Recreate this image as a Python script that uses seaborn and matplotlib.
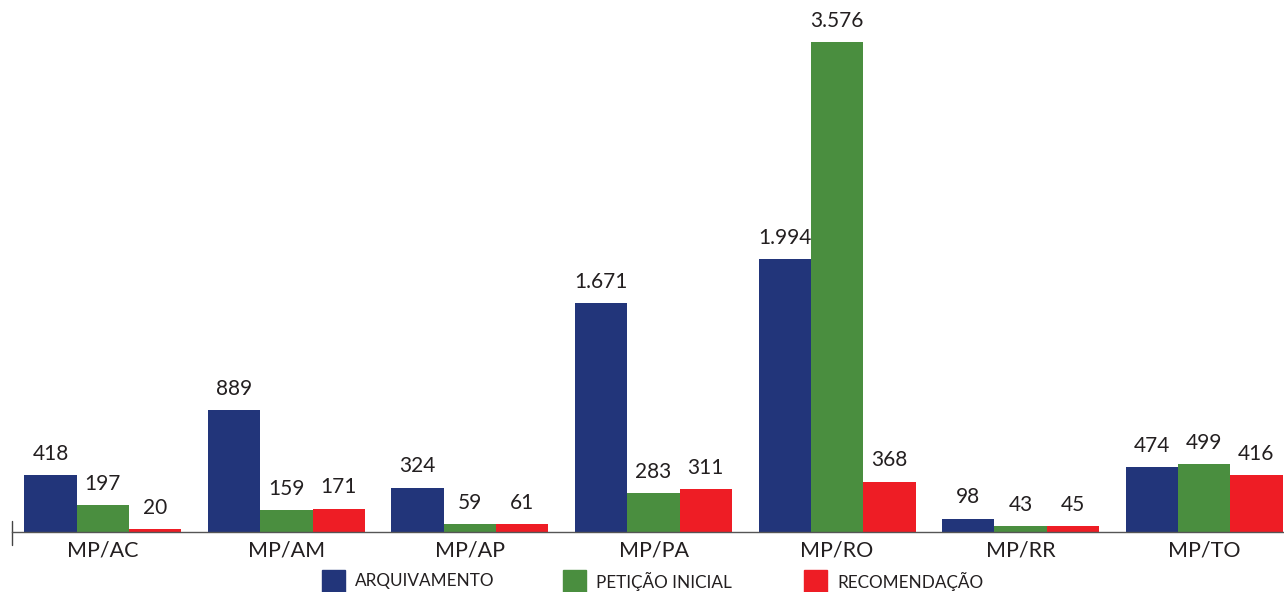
import seaborn as sns
import matplotlib.pyplot as plt
import pandas as pd

categories = ["MP/AC", "MP/AM", "MP/AP", "MP/PA", "MP/RO", "MP/RR", "MP/TO"]
series_names = ["ARQUIVAMENTO", "PETIÇÃO INICIAL", "RECOMENDAÇÃO"]
arquivamento = [418, 889, 324, 1671, 1994, 98, 474]
peticao_inicial = [197, 159, 59, 283, 3576, 43, 499]
recomendacao = [20, 171, 61, 311, 368, 45, 416]
colors = ["#22357A", "#4A8E3F", "#EE1D25"]


def fmt(v):
    # Brazilian thousands separator
    return f"{v:,}".replace(",", ".")


rows = []
for name, vals in zip(series_names, [arquivamento, peticao_inicial, recomendacao]):
    for cat, v in zip(categories, vals):
        rows.append({"Estado": cat, "Tipo": name, "Valor": v})
df = pd.DataFrame(rows)

sns.set_theme(style="white")
plt.rcParams["font.family"] = ["Lato", "DejaVu Sans"]

fig = plt.figure(figsize=(12.84, 5.92), dpi=100)
ax = fig.add_axes([12 / 1284, 1 - 532 / 592, 1 - 12 / 1284, 532 / 592])

sns.barplot(data=df, x="Estado", y="Valor", hue="Tipo", order=categories,
            hue_order=series_names, palette=colors, width=0.855,
            saturation=1, linewidth=0, ax=ax, legend=False)

for container in ax.containers:
    ax.bar_label(container, labels=[fmt(int(b.get_height())) for b in container],
                 padding=8, fontsize=15, color="#231F20")

ax.set_xlim(-0.495, 6.435)
ax.set_ylim(0, 3576 * 532 / 490)
ax.set_xlabel("")
ax.set_ylabel("")
ax.set_yticks([])
ax.tick_params(axis="x", length=0, labelsize=15.5, labelcolor="#231F20", pad=6)
for side in ["top", "right", "left"]:
    ax.spines[side].set_visible(False)
ax.spines["bottom"].set_color("#555555")
ax.spines["bottom"].set_linewidth(1)
# small tick mark at the left end of the axis
ax.plot([0, 0], [-0.025, 0.02], transform=ax.transAxes, color="#444444",
        lw=1, clip_on=False)

# legend drawn in figure coordinates
for i, (name, c) in enumerate(zip(series_names, colors)):
    x0 = (322 + i * 241) / 1284
    fig.patches.append(plt.Rectangle((x0, 0.0), 23 / 1284, 22 / 592,
                                     transform=fig.transFigure, color=c))
    fig.text(x0 + 33 / 1284, 11 / 592, name, fontsize=12.3, va="center",
             ha="left", color="#231F20")

fig.savefig("out.png", dpi=100)
